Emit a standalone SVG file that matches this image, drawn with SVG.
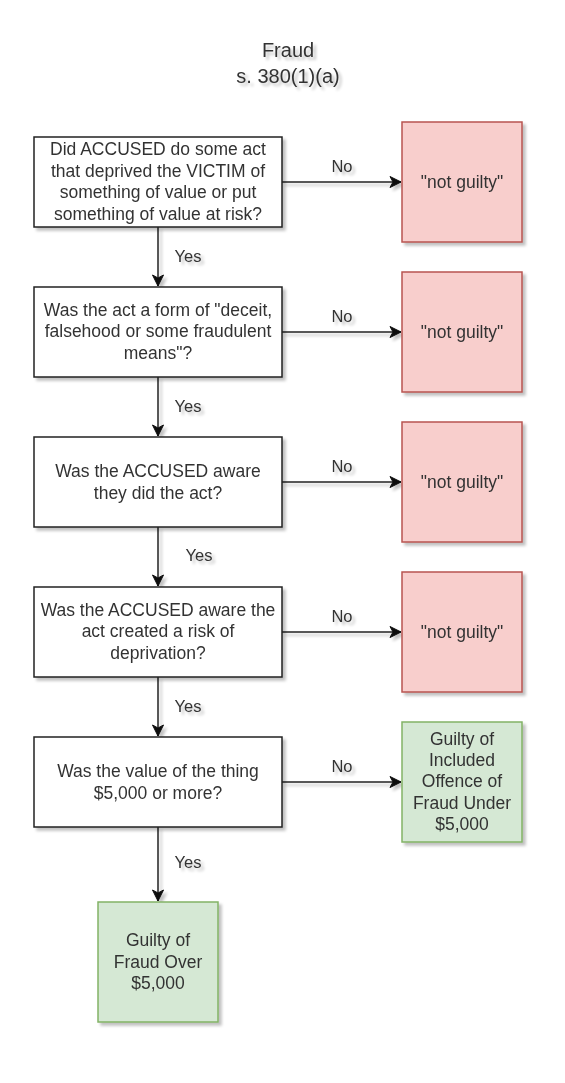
<svg xmlns="http://www.w3.org/2000/svg" width="565" height="1083" viewBox="0 0 565 1083">
<style>
text{font-family:"Liberation Sans",Arial,sans-serif;fill:#333;text-anchor:middle}
.t{font-size:20px}
.b{font-size:17.5px}
.l{font-size:16.5px}
.q{fill:#fff;stroke:#222;stroke-width:1.5}
.r{fill:#f8cecc;stroke:#b85450;stroke-width:1.5}
.g{fill:#d5e8d4;stroke:#82b366;stroke-width:1.5}
.e{stroke:#222;stroke-width:1.5;fill:none}
</style>
<defs>
<filter id="sh" x="-10%" y="-10%" width="130%" height="130%">
<feGaussianBlur in="SourceAlpha" stdDeviation="1.5"/>
<feOffset dx="3" dy="3" result="o"/>
<feComponentTransfer><feFuncA type="linear" slope="0.25"/></feComponentTransfer>
<feMerge><feMergeNode/><feMergeNode in="SourceGraphic"/></feMerge>
</filter>
<marker id="ar" markerWidth="14" markerHeight="14" refX="12" refY="7" orient="auto" markerUnits="userSpaceOnUse">
<path d="M1,1.5 L12,7 L1,12.5 L4,7 Z" fill="#111" stroke="#111" stroke-width="1"/>
</marker>
</defs>
<g id="title" filter="url(#sh)">
<text class="t" x="288" y="57">Fraud</text>
<text class="t" x="288" y="83">s. 380(1)(a)</text>
</g>
<g id="edges" filter="url(#sh)">
<path class="e" d="M282,182 H401" marker-end="url(#ar)"/>
<path class="e" d="M282,332 H401" marker-end="url(#ar)"/>
<path class="e" d="M282,482 H401" marker-end="url(#ar)"/>
<path class="e" d="M282,632 H401" marker-end="url(#ar)"/>
<path class="e" d="M282,782 H401" marker-end="url(#ar)"/>
<path class="e" d="M158,227 V286" marker-end="url(#ar)"/>
<path class="e" d="M158,377 V436" marker-end="url(#ar)"/>
<path class="e" d="M158,527 V586" marker-end="url(#ar)"/>
<path class="e" d="M158,677 V736" marker-end="url(#ar)"/>
<path class="e" d="M158,827 V901" marker-end="url(#ar)"/>
<text class="l" x="342" y="172">No</text>
<text class="l" x="342" y="322">No</text>
<text class="l" x="342" y="472">No</text>
<text class="l" x="342" y="622">No</text>
<text class="l" x="342" y="772">No</text>
<text class="l" x="188" y="262">Yes</text>
<text class="l" x="188" y="412">Yes</text>
<text class="l" x="199" y="561">Yes</text>
<text class="l" x="188" y="712">Yes</text>
<text class="l" x="188" y="868">Yes</text>
</g>
<g id="q1" filter="url(#sh)">
<rect class="q" x="34" y="137" width="248" height="90"/>
<text class="b" x="158" y="155">Did ACCUSED do some act</text>
<text class="b" x="158" y="177">that deprived the VICTIM of</text>
<text class="b" x="158" y="198">something of value or put</text>
<text class="b" x="158" y="220">something of value at risk?</text>
</g>
<g id="q2" filter="url(#sh)">
<rect class="q" x="34" y="287" width="248" height="90"/>
<text class="b" x="158" y="316">Was the act a form of "deceit,</text>
<text class="b" x="158" y="337">falsehood or some fraudulent</text>
<text class="b" x="158" y="359">means"?</text>
</g>
<g id="q3" filter="url(#sh)">
<rect class="q" x="34" y="437" width="248" height="90"/>
<text class="b" x="158" y="477">Was the ACCUSED aware</text>
<text class="b" x="158" y="499">they did the act?</text>
</g>
<g id="q4" filter="url(#sh)">
<rect class="q" x="34" y="587" width="248" height="90"/>
<text class="b" x="158" y="616">Was the ACCUSED aware the</text>
<text class="b" x="158" y="637">act created a risk of</text>
<text class="b" x="158" y="659">deprivation?</text>
</g>
<g id="q5" filter="url(#sh)">
<rect class="q" x="34" y="737" width="248" height="90"/>
<text class="b" x="158" y="777">Was the value of the thing</text>
<text class="b" x="158" y="799">$5,000 or more?</text>
</g>
<g id="ng1" filter="url(#sh)">
<rect class="r" x="402" y="122" width="120" height="120"/>
<text class="b" x="462" y="188">"not guilty"</text>
</g>
<g id="ng2" filter="url(#sh)">
<rect class="r" x="402" y="272" width="120" height="120"/>
<text class="b" x="462" y="338">"not guilty"</text>
</g>
<g id="ng3" filter="url(#sh)">
<rect class="r" x="402" y="422" width="120" height="120"/>
<text class="b" x="462" y="488">"not guilty"</text>
</g>
<g id="ng4" filter="url(#sh)">
<rect class="r" x="402" y="572" width="120" height="120"/>
<text class="b" x="462" y="638">"not guilty"</text>
</g>
<g id="under" filter="url(#sh)">
<rect class="g" x="402" y="722" width="120" height="120"/>
<text class="b" x="462" y="745">Guilty of</text>
<text class="b" x="462" y="766">Included</text>
<text class="b" x="462" y="787">Offence of</text>
<text class="b" x="462" y="809">Fraud Under</text>
<text class="b" x="462" y="830">$5,000</text>
</g>
<g id="over" filter="url(#sh)">
<rect class="g" x="98" y="902" width="120" height="120"/>
<text class="b" x="158" y="946">Guilty of</text>
<text class="b" x="158" y="968">Fraud Over</text>
<text class="b" x="158" y="989">$5,000</text>
</g>
</svg>
